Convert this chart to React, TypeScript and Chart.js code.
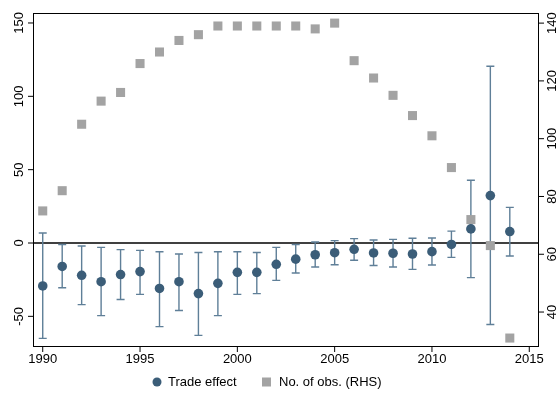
import React, { useEffect, useRef } from "react";
import Chart from "chart.js/auto";

const years = [1990, 1991, 1992, 1993, 1994, 1995, 1996, 1997, 1998, 1999, 2000, 2001, 2002, 2003, 2004, 2005, 2006, 2007, 2008, 2009, 2010, 2011, 2012, 2013, 2014];
const effect = [-29.3, -16, -22, -26.4, -21.5, -19.5, -31, -26.4, -34.5, -27.5, -20, -20, -14.5, -11, -8, -6.6, -4.3, -6.8, -7, -7.5, -5.9, -1, 9.6, 32.3, 7.8];
const upper = [6.8, -1, -2, -3, -4.5, -5, -6, -7.5, -6.5, -6, -6, -6.5, -3, -1, 0.7, 1.6, 3, 2, 2.5, 3.2, 3.4, 8.1, 42.8, 120.5, 24.3];
const lower = [-65, -30.5, -42, -49.5, -38.5, -35, -57, -46, -63, -49.5, -35, -34.5, -25.5, -20.5, -16.4, -14.8, -11.8, -15.3, -16.4, -18, -15, -9.8, -23.6, -55.6, -8.9];
const obs = [75, 82, 105, 113, 116, 126, 130, 134, 136, 139, 139, 139, 139, 139, 138, 140, 127, 121, 115, 108, 101, 90, 72, 63, 31];
const xTicks = [1990, 1995, 2000, 2005, 2010, 2015];
const leftTicks = [-50, 0, 50, 100, 150];
const rightTicks = [40, 60, 80, 100, 120, 140];

const DOT = "#3b5d78";
const BAR = "#5f7f98";
const SQ = "#a3a3a3";
const FONT = "13px 'Liberation Sans', Arial, sans-serif";

const overlay = {
  id: "overlay",
  beforeDatasetsDraw(chart: any) {
    const { ctx, chartArea: a, scales } = chart;
    const x = scales.x, y = scales.y;
    ctx.save();
    // zero line
    ctx.strokeStyle = "#000";
    ctx.lineWidth = 1.3;
    ctx.beginPath();
    ctx.moveTo(a.left, y.getPixelForValue(0));
    ctx.lineTo(a.right, y.getPixelForValue(0));
    ctx.stroke();
    // error bars
    ctx.strokeStyle = BAR;
    ctx.lineWidth = 1.4;
    years.forEach((yr, i) => {
      const px = x.getPixelForValue(yr);
      const t = y.getPixelForValue(upper[i]);
      const b = y.getPixelForValue(lower[i]);
      ctx.beginPath();
      ctx.moveTo(px, t); ctx.lineTo(px, b);
      ctx.moveTo(px - 4, t); ctx.lineTo(px + 4, t);
      ctx.moveTo(px - 4, b); ctx.lineTo(px + 4, b);
      ctx.stroke();
    });
    ctx.restore();
  },
  afterDraw(chart: any) {
    const { ctx, chartArea: a, scales } = chart;
    const x = scales.x, y = scales.y, y2 = scales.y2;
    ctx.save();
    ctx.strokeStyle = "#000";
    ctx.lineWidth = 1;
    ctx.strokeRect(a.left + 0.5, a.top + 0.5, a.right - a.left - 1, a.bottom - a.top - 1);
    ctx.fillStyle = "#000";
    ctx.font = FONT;
    ctx.beginPath();
    xTicks.forEach((t) => {
      const px = x.getPixelForValue(t);
      ctx.moveTo(px, a.bottom); ctx.lineTo(px, a.bottom + 5);
    });
    leftTicks.forEach((t) => {
      const py = y.getPixelForValue(t);
      ctx.moveTo(a.left, py); ctx.lineTo(a.left - 5, py);
    });
    rightTicks.forEach((t) => {
      const py = y2.getPixelForValue(t);
      ctx.moveTo(a.right, py); ctx.lineTo(a.right + 5, py);
    });
    ctx.stroke();
    ctx.textAlign = "center";
    ctx.textBaseline = "top";
    xTicks.forEach((t) => ctx.fillText(String(t), x.getPixelForValue(t), a.bottom + 6));
    ctx.textBaseline = "bottom";
    leftTicks.forEach((t) => {
      ctx.save();
      ctx.translate(a.left - 7, y.getPixelForValue(t));
      ctx.rotate(-Math.PI / 2);
      ctx.fillText(String(t), 0, 0);
      ctx.restore();
    });
    rightTicks.forEach((t) => {
      ctx.save();
      ctx.translate(a.right + 7, y2.getPixelForValue(t));
      ctx.rotate(-Math.PI / 2);
      ctx.textBaseline = "top";
      ctx.fillText(String(t), 0, 0);
      ctx.restore();
    });
    // legend
    const ly = 382;
    ctx.textAlign = "left";
    ctx.textBaseline = "middle";
    ctx.fillStyle = DOT;
    ctx.beginPath();
    ctx.arc(157, ly, 4.5, 0, Math.PI * 2);
    ctx.fill();
    ctx.fillStyle = "#000";
    ctx.fillText("Trade effect", 168, ly);
    ctx.fillStyle = SQ;
    ctx.fillRect(262, ly - 4.5, 9, 9);
    ctx.fillStyle = "#000";
    ctx.fillText("No. of obs. (RHS)", 279, ly);
    ctx.restore();
  },
};

export default function App() {
  const ref = useRef<HTMLCanvasElement>(null);
  useEffect(() => {
    if (!ref.current) return;
    const chart = new Chart(ref.current, {
      type: "scatter",
      data: {
        datasets: [
          {
            label: "No. of obs. (RHS)",
            data: years.map((yr, i) => ({ x: yr, y: obs[i] })),
            yAxisID: "y2",
            pointStyle: "rect",
            pointRadius: 6.4,
            backgroundColor: SQ,
            borderColor: SQ,
            borderWidth: 0,
            order: 2,
          },
          {
            label: "Trade effect",
            data: years.map((yr, i) => ({ x: yr, y: effect[i] })),
            yAxisID: "y",
            pointRadius: 4.8,
            backgroundColor: DOT,
            borderColor: DOT,
            borderWidth: 0,
            order: 1,
          },
        ],
      },
      options: {
        animation: false,
        responsive: false,
        layout: { padding: { left: 33, right: 21, top: 13, bottom: 57 } },
        plugins: { legend: { display: false }, tooltip: { enabled: false } },
        scales: {
          x: { type: "linear", min: 1989.5, max: 2015.5, display: false },
          y: { min: -70.9, max: 156.8, display: false },
          y2: { min: 27.9, max: 143.5, display: false },
        },
      },
      plugins: [overlay],
    });
    return () => chart.destroy();
  }, []);
  return (
    <div style={{ position: "absolute", left: 0, top: 0, width: 560, height: 404, background: "#fff" }}>
      <canvas ref={ref} width={560} height={404} style={{ width: 560, height: 404 }} />
    </div>
  );
}
